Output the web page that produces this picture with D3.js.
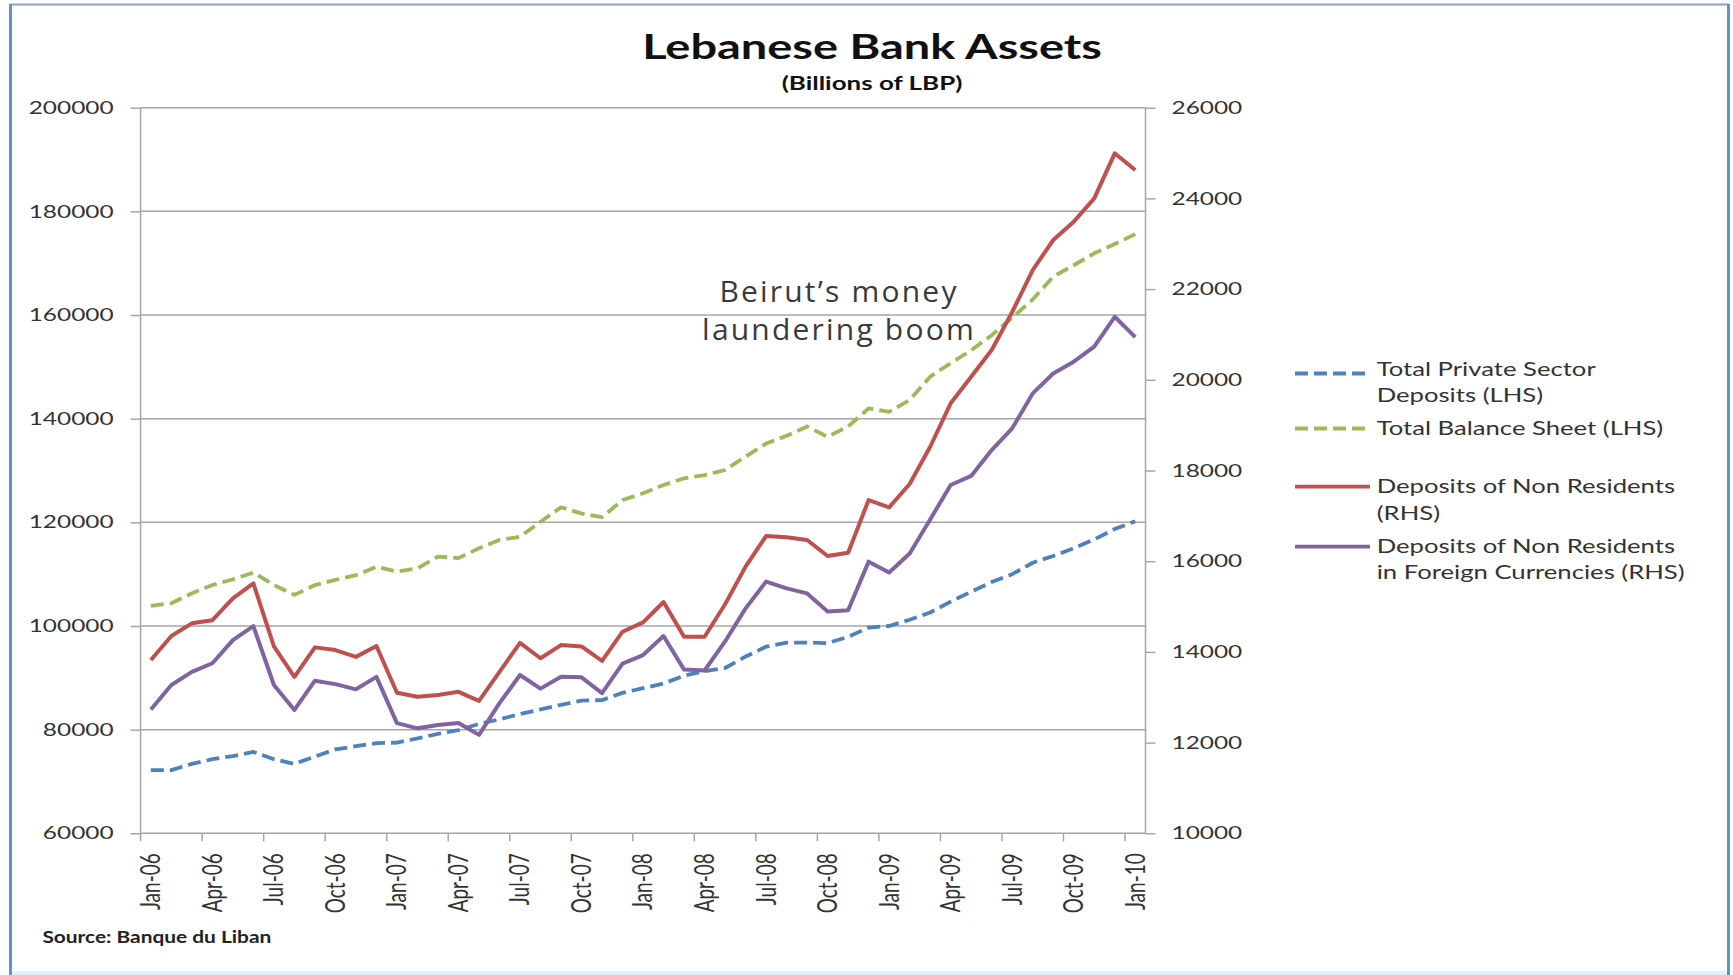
<!DOCTYPE html>
<html>
<head>
<meta charset="utf-8">
<script src="https://cdn.jsdelivr.net/npm/d3@7"></script>
<style>
  html, body { margin: 0; padding: 0; background: #fff; }
  svg { display: block; }
</style>
</head>
<body>
<svg id="chart" width="1733" height="975"></svg>
<script>
// ---- Data (billions of LBP, monthly Jan-06 .. Jan-10) ----
const months = [
  "Jan-06","Feb-06","Mar-06","Apr-06","May-06","Jun-06","Jul-06","Aug-06","Sep-06","Oct-06","Nov-06","Dec-06",
  "Jan-07","Feb-07","Mar-07","Apr-07","May-07","Jun-07","Jul-07","Aug-07","Sep-07","Oct-07","Nov-07","Dec-07",
  "Jan-08","Feb-08","Mar-08","Apr-08","May-08","Jun-08","Jul-08","Aug-08","Sep-08","Oct-08","Nov-08","Dec-08",
  "Jan-09","Feb-09","Mar-09","Apr-09","May-09","Jun-09","Jul-09","Aug-09","Sep-09","Oct-09","Nov-09","Dec-09",
  "Jan-10"
];

const privateDeposits = [
  72200, 72200, 73400, 74300, 74900, 75700, 74300, 73400, 74800, 76200, 76800, 77400,
  77500, 78300, 79200, 79900, 81100, 82000, 83000, 83900, 84800, 85600, 85700, 87100,
  88000, 88900, 90400, 91300, 91900, 94100, 96000, 96800, 96800, 96700, 97900, 99700,
  100000, 101200, 102600, 104700, 106600, 108500, 110000, 112200, 113500, 115000, 116700, 118700,
  120200
];

const balanceSheet = [
  103900, 104400, 106300, 107900, 109000, 110300, 107900, 106000, 107900, 108900, 109800, 111400,
  110500, 111100, 113400, 113100, 115000, 116600, 117200, 120100, 122900, 121700, 121000, 124300,
  125600, 127200, 128500, 129100, 130100, 132700, 135200, 136700, 138500, 136500, 138500, 142000,
  141300, 143600, 148100, 150700, 153200, 156100, 159500, 163000, 167400, 169600, 171900, 173700,
  175600
];

const nonResidents = [
  13820, 14350, 14630, 14700, 15180, 15510, 14120, 13450, 14100, 14040, 13890, 14130,
  13100, 13010, 13050, 13120, 12920, 13560, 14200, 13860, 14150, 14120, 13800, 14445,
  14650, 15100, 14335, 14335, 15050, 15880, 16555, 16527, 16467, 16114, 16187, 17349,
  17188, 17702, 18524, 19481, 20068, 20657, 21495, 22421, 23082, 23486, 24002, 24994,
  24626
];

const nonResidentsFx = [
  12730, 13270, 13560, 13750, 14260, 14570, 13270, 12720, 13365, 13290, 13175, 13450,
  12430, 12315, 12390, 12430, 12170, 12870, 13490, 13190, 13450, 13440, 13090, 13740,
  13930, 14350, 13610, 13590, 14230, 14960, 15550, 15400, 15290, 14890, 14920, 15990,
  15750, 16170, 16920, 17680, 17880, 18450, 18930, 19700, 20140, 20400, 20730, 21390,
  20940
];

const leftTicks = [60000, 80000, 100000, 120000, 140000, 160000, 180000, 200000];
const rightTicks = [10000, 12000, 14000, 16000, 18000, 20000, 22000, 24000, 26000];

const seriesNames = [
  ["Total Private Sector", "Deposits (LHS)"],
  ["Total Balance Sheet (LHS)"],
  ["Deposits of Non Residents", "(RHS)"],
  ["Deposits of Non Residents", "in Foreign Currencies (RHS)"]
];

// ---- Layout ----
const plot = { left: 140.6, right: 1145.5, top: 107.7, bottom: 833.3 };
const SX = 1.38;               // horizontal stretch of the chart lettering
const FONT = "Lato, 'Open Sans', sans-serif";
const GRID = "#a6a6a6";
const TEXT = "#333";

const svg = d3.select("#chart");

// outer frame
const frame = svg.append("g");
frame.append("line").attr("x1", 10).attr("x2", 1729).attr("y1", 4.5).attr("y2", 4.5)
  .attr("stroke", "#8aa3c4").attr("stroke-width", 2);
frame.append("line").attr("x1", 10.5).attr("x2", 10.5).attr("y1", 4).attr("y2", 975)
  .attr("stroke", "#5f92d2").attr("stroke-width", 3);
frame.append("line").attr("x1", 1728.5).attr("x2", 1728.5).attr("y1", 4).attr("y2", 975)
  .attr("stroke", "#5f92d2").attr("stroke-width", 3);
frame.append("rect").attr("x", 12).attr("y", 971).attr("width", 1715).attr("height", 4)
  .attr("fill", "#e4eef9");

// ---- Scales ----
const x = d3.scalePoint().domain(months).range([plot.left, plot.right]).padding(0.5);
const step = x.step();
const yL = d3.scaleLinear().domain([60000, 200000]).range([plot.bottom, plot.top]);
const yR = d3.scaleLinear().domain([10000, 26000]).range([plot.bottom, plot.top]);

// gridlines
svg.append("g").selectAll("line").data(leftTicks).join("line")
  .attr("x1", plot.left).attr("x2", plot.right)
  .attr("y1", d => yL(d)).attr("y2", d => yL(d))
  .attr("stroke", GRID).attr("stroke-width", 1.5);

// axis lines
svg.append("line").attr("x1", plot.left).attr("x2", plot.left)
  .attr("y1", plot.top).attr("y2", plot.bottom).attr("stroke", GRID).attr("stroke-width", 1.5);
svg.append("line").attr("x1", plot.right).attr("x2", plot.right)
  .attr("y1", plot.top).attr("y2", plot.bottom).attr("stroke", GRID).attr("stroke-width", 1.5);

function stretchAxisText(g) {
  g.selectAll(".tick text").each(function () {
    const t = d3.select(this);
    const xx = +t.attr("x");
    t.attr("x", 0).attr("transform", `translate(${xx},0) scale(${SX},1)`);
  });
}

function styleAxis(g) {
  g.select(".domain").remove();
  g.selectAll(".tick line").attr("stroke", GRID).attr("stroke-width", 1.5);
  g.selectAll(".tick text").attr("fill", TEXT).style("font-family", FONT).style("font-size", "17.7px");
}

const gL = svg.append("g").attr("transform", `translate(${plot.left},0)`)
  .call(d3.axisLeft(yL).tickValues(leftTicks).tickSize(10).tickPadding(17).tickFormat(d3.format("d")));
styleAxis(gL);
stretchAxisText(gL);

const gR = svg.append("g").attr("transform", `translate(${plot.right},0)`)
  .call(d3.axisRight(yR).tickValues(rightTicks).tickSize(10).tickPadding(16).tickFormat(d3.format("d")));
styleAxis(gR);
stretchAxisText(gR);

// category axis: tick marks every third month on band edges, labels at month centres
const labelMonths = months.filter((m, i) => i % 3 === 0);
svg.append("g").selectAll("line").data(labelMonths).join("line")
  .attr("x1", d => x(d) - step / 2).attr("x2", d => x(d) - step / 2)
  .attr("y1", plot.bottom).attr("y2", plot.bottom + 8)
  .attr("stroke", GRID).attr("stroke-width", 1.5);

svg.append("g").selectAll("text").data(labelMonths).join("text")
  .attr("transform", d => `translate(${x(d)},${plot.bottom + 20}) scale(${SX},1) rotate(-90)`)
  .attr("text-anchor", "end").attr("dy", "0.36em")
  .attr("fill", TEXT).style("font-family", FONT).style("font-size", "19px")
  .text(d => d);

// ---- Series ----
const series = [
  { values: privateDeposits, y: yL, color: "#4f81bd", dash: "13,6" },
  { values: balanceSheet,    y: yL, color: "#9bbb59", dash: "13,6" },
  { values: nonResidents,    y: yR, color: "#c0504d", dash: null },
  { values: nonResidentsFx,  y: yR, color: "#8064a2", dash: null }
];

series.forEach(s => {
  const line = d3.line().x((d, i) => x(months[i])).y(d => s.y(d));
  svg.append("path").datum(s.values)
    .attr("d", line)
    .attr("fill", "none")
    .attr("stroke", s.color)
    .attr("stroke-width", s.dash ? 3.8 : 4)
    .attr("stroke-linejoin", "round")
    .attr("stroke-dasharray", s.dash);
});

// ---- Titles ----
svg.append("text")
  .attr("transform", `translate(872,58.5) scale(${SX},1)`)
  .attr("text-anchor", "middle").attr("fill", "#111")
  .style("font-family", FONT).style("font-weight", 700).style("font-size", "34px")
  .text("Lebanese Bank Assets");

svg.append("text")
  .attr("transform", `translate(872,89.5) scale(${SX},1)`)
  .attr("text-anchor", "middle").attr("fill", "#111")
  .style("font-family", FONT).style("font-weight", 700).style("font-size", "18.8px")
  .text("(Billions of LBP)");

// annotation
const note = svg.append("text").attr("text-anchor", "middle").attr("fill", "#3a3a3a")
  .style("font-family", "'Open Sans', sans-serif").style("font-size", "30px")
  .style("letter-spacing", "2.2px");
note.append("tspan").attr("x", 839).attr("y", 301.7).text("Beirut\u2019s money");
note.append("tspan").attr("x", 839).attr("y", 340).text("laundering boom");

// ---- Legend ----
const legendRows = [
  { key: 0, lineY: 373.5, baselines: [376, 401.7] },
  { key: 1, lineY: 428.5, baselines: [435] },
  { key: 2, lineY: 486.7, baselines: [493.3, 520] },
  { key: 3, lineY: 546.7, baselines: [553.3, 579.3] }
];
const legend = svg.append("g");
legendRows.forEach(r => {
  const s = series[r.key];
  legend.append("line")
    .attr("x1", 1295).attr("x2", 1370).attr("y1", r.lineY).attr("y2", r.lineY)
    .attr("stroke", s.color).attr("stroke-width", 3.8)
    .attr("stroke-dasharray", s.dash);
  seriesNames[r.key].forEach((txt, j) => {
    legend.append("text")
      .attr("transform", `translate(1376.7,${r.baselines[j]}) scale(${SX},1)`)
      .attr("fill", TEXT).style("font-family", FONT).style("font-size", "18.6px")
      .text(txt);
  });
});

// source line
svg.append("text")
  .attr("transform", `translate(42.4,942.7) scale(1.25,1)`)
  .attr("fill", "#222").style("font-family", FONT).style("font-weight", 700).style("font-size", "16.7px")
  .text("Source: Banque du Liban");
</script>
</body>
</html>
